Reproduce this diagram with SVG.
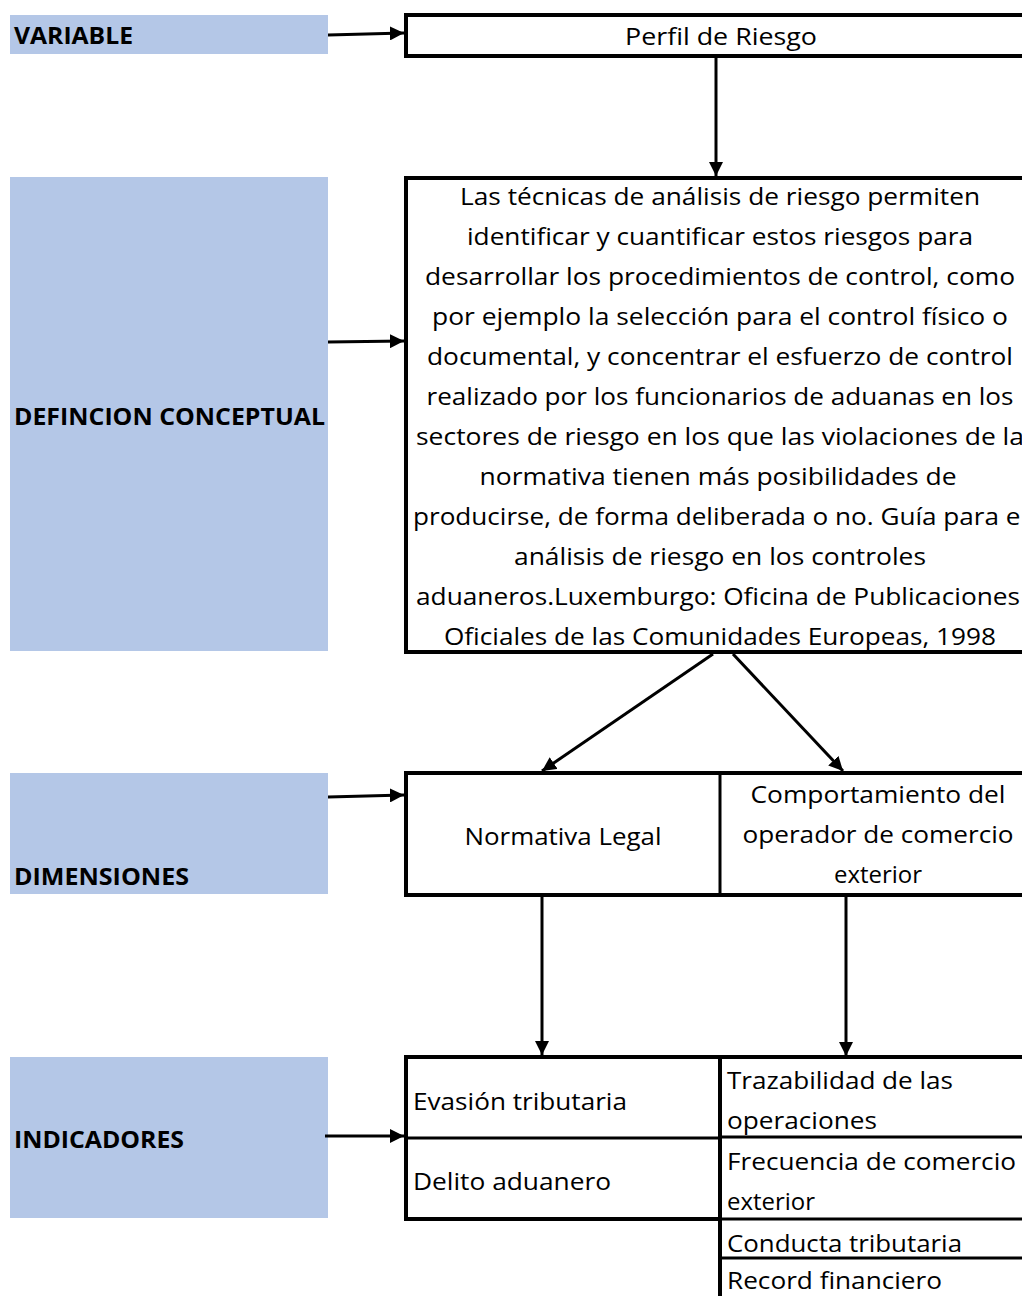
<svg xmlns="http://www.w3.org/2000/svg" width="1022" height="1296" viewBox="0 0 1022 1296">
  <style>
    .lbl { fill: #B4C7E7; }
    .lbltxt { font-family: "Open Sans", "Liberation Sans", sans-serif; font-weight: bold; font-size: 23px; fill: #000; }
    .box { fill: #fff; stroke: #000; stroke-width: 4; }
    .cell { fill: none; stroke: #000; stroke-width: 3; }
    .t { font-family: "Open Sans", "Liberation Sans", sans-serif; font-size: 24px; fill: #000; }
    .c { text-anchor: middle; }
    .conn { stroke: #000; stroke-width: 3; fill: none; marker-end: url(#ah); }
  </style>
  <defs>
    <marker id="ah" viewBox="0 0 10 10" refX="10" refY="5" markerWidth="4.7" markerHeight="4.7" markerUnits="strokeWidth" orient="auto">
      <path d="M0,0 L10,5 L0,10 Z" fill="#000"/>
    </marker>
  </defs>
  <rect width="1022" height="1296" fill="#fff"/>

  <!-- level labels -->
  <g id="lbl-variable">
    <rect class="lbl" x="10" y="15" width="318" height="39"/>
    <text class="lbltxt" x="14" y="44" textLength="119" lengthAdjust="spacingAndGlyphs">VARIABLE</text>
  </g>
  <g id="lbl-definicion">
    <rect class="lbl" x="10" y="177" width="318" height="474"/>
    <text class="lbltxt" x="14" y="425" textLength="311" lengthAdjust="spacingAndGlyphs">DEFINCION CONCEPTUAL</text>
  </g>
  <g id="lbl-dimensiones">
    <rect class="lbl" x="10" y="773" width="318" height="121"/>
    <text class="lbltxt" x="14" y="885" textLength="175" lengthAdjust="spacingAndGlyphs">DIMENSIONES</text>
  </g>
  <g id="lbl-indicadores">
    <rect class="lbl" x="10" y="1057" width="318" height="161"/>
    <text class="lbltxt" x="14" y="1148" textLength="170" lengthAdjust="spacingAndGlyphs">INDICADORES</text>
  </g>

  <!-- variable -->
  <g id="node-variable">
    <rect class="box" x="406" y="15" width="630" height="41"/>
    <text class="t c" x="721" y="45" textLength="192" lengthAdjust="spacingAndGlyphs">Perfil de Riesgo</text>
  </g>

  <!-- conceptual definition -->
  <g id="node-definicion">
    <rect class="box" x="406" y="178" width="630" height="474"/>
    <g class="t c">
      <text x="720" y="205" textLength="520" lengthAdjust="spacingAndGlyphs">Las técnicas de análisis de riesgo permiten</text>
      <text x="720" y="245" textLength="506" lengthAdjust="spacingAndGlyphs">identificar y cuantificar estos riesgos para</text>
      <text x="720" y="285" textLength="590" lengthAdjust="spacingAndGlyphs">desarrollar los procedimientos de control, como</text>
      <text x="720" y="325" textLength="576" lengthAdjust="spacingAndGlyphs">por ejemplo la selección para el control físico o</text>
      <text x="720" y="365" textLength="586" lengthAdjust="spacingAndGlyphs">documental, y concentrar el esfuerzo de control</text>
      <text x="720" y="405" textLength="587" lengthAdjust="spacingAndGlyphs">realizado por los funcionarios de aduanas en los</text>
      <text x="720" y="445" textLength="608" lengthAdjust="spacingAndGlyphs">sectores de riesgo en los que las violaciones de la</text>
      <text x="718" y="485" textLength="477" lengthAdjust="spacingAndGlyphs">normativa tienen más posibilidades de</text>
      <text x="720" y="525" textLength="614" lengthAdjust="spacingAndGlyphs">producirse, de forma deliberada o no. Guía para el</text>
      <text x="720" y="565" textLength="412" lengthAdjust="spacingAndGlyphs">análisis de riesgo en los controles</text>
      <text x="718" y="605" textLength="604" lengthAdjust="spacingAndGlyphs">aduaneros.Luxemburgo: Oficina de Publicaciones</text>
      <text x="720" y="645" textLength="552" lengthAdjust="spacingAndGlyphs">Oficiales de las Comunidades Europeas, 1998</text>
    </g>
  </g>

  <!-- dimensions -->
  <g id="node-dimensiones">
    <rect class="box" x="406" y="773" width="630" height="122"/>
    <line class="cell" x1="720" y1="773" x2="720" y2="895"/>
    <text class="t c" x="563" y="845" textLength="197" lengthAdjust="spacingAndGlyphs">Normativa Legal</text>
    <text class="t c" x="878" y="803" textLength="255" lengthAdjust="spacingAndGlyphs">Comportamiento del</text>
    <text class="t c" x="878" y="843" textLength="271" lengthAdjust="spacingAndGlyphs">operador de comercio</text>
    <text class="t c" x="878" y="883" textLength="88" lengthAdjust="spacingAndGlyphs">exterior</text>
  </g>

  <!-- indicators, legal norms -->
  <g id="node-ind-normativa">
    <rect class="box" x="406" y="1057" width="314" height="162"/>
    <line class="cell" x1="406" y1="1138" x2="720" y2="1138"/>
    <text class="t" x="413" y="1110" textLength="214" lengthAdjust="spacingAndGlyphs">Evasión tributaria</text>
    <text class="t" x="413" y="1190" textLength="198" lengthAdjust="spacingAndGlyphs">Delito aduanero</text>
  </g>

  <!-- indicators, operator behaviour -->
  <g id="node-ind-comportamiento">
    <rect class="box" x="720" y="1057" width="320" height="260"/>
    <line class="cell" x1="720" y1="1137" x2="1040" y2="1137"/>
    <line class="cell" x1="720" y1="1219" x2="1040" y2="1219"/>
    <line class="cell" x1="720" y1="1258" x2="1040" y2="1258"/>
    <text class="t" x="727" y="1089" textLength="226" lengthAdjust="spacingAndGlyphs">Trazabilidad de las</text>
    <text class="t" x="727" y="1129" textLength="150" lengthAdjust="spacingAndGlyphs">operaciones</text>
    <text class="t" x="727" y="1170" textLength="289" lengthAdjust="spacingAndGlyphs">Frecuencia de comercio</text>
    <text class="t" x="727" y="1210" textLength="88" lengthAdjust="spacingAndGlyphs">exterior</text>
    <text class="t" x="727" y="1252" textLength="235" lengthAdjust="spacingAndGlyphs">Conducta tributaria</text>
    <text class="t" x="727" y="1289" textLength="215" lengthAdjust="spacingAndGlyphs">Record financiero</text>
  </g>

  <!-- connectors -->
  <g id="connectors">
    <line class="conn" x1="328" y1="35" x2="404" y2="33"/>
    <line class="conn" x1="716" y1="58" x2="716" y2="176"/>
    <line class="conn" x1="328" y1="342" x2="404" y2="341"/>
    <line class="conn" x1="713" y1="654" x2="542" y2="771"/>
    <line class="conn" x1="733" y1="654" x2="843" y2="771"/>
    <line class="conn" x1="328" y1="797" x2="404" y2="795"/>
    <line class="conn" x1="542" y1="897" x2="542" y2="1055"/>
    <line class="conn" x1="846" y1="897" x2="846" y2="1056"/>
    <line class="conn" x1="325" y1="1136" x2="404" y2="1136"/>
  </g>
</svg>
